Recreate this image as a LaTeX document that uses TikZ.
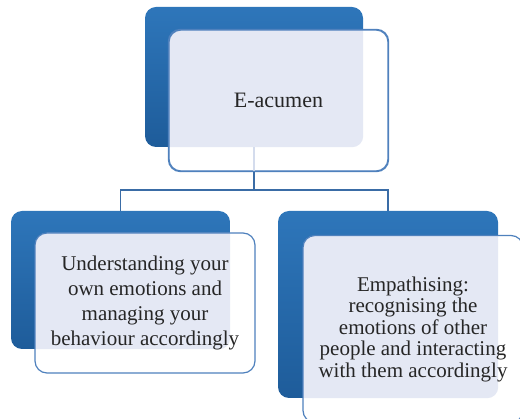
\documentclass[tikz,border=0pt]{standalone}
\usepackage{fontspec}
\setmainfont{Liberation Serif}
\begin{document}
\definecolor{blueTop}{RGB}{46,118,186}
\definecolor{blueBot}{RGB}{30,92,154}
\definecolor{edgeBlue}{RGB}{79,129,189}
\definecolor{lineBlue}{RGB}{58,108,166}
\definecolor{overlapFill}{RGB}{228,232,244}
\definecolor{faintLine}{RGB}{212,220,237}
\definecolor{txt}{RGB}{38,38,38}
\begin{tikzpicture}[x=1pt,y=-1pt,
  backbox/.style={draw=none, rounded corners=11pt, top color=blueTop, bottom color=blueBot,
    minimum width=#1, inner sep=0pt},
  % the part of a card lying over its plate is tinted
  frontbox/.style={draw=edgeBlue, line width=1.2pt, rounded corners=12pt, fill=white,
    text=txt, inner sep=0pt, align=center, font=\fontsize{21}{25}\selectfont,
    path picture={\fill[overlapFill, rounded corners=11pt]
      (#1.north west) rectangle (#1.south east);}},
  link/.style={draw=lineBlue, line width=1.4pt}
]
\useasboundingbox (0,0) rectangle (520,419);

% back plates
\node[backbox=218pt, minimum height=140pt] (topback) at (254,77) {};
\node[backbox=219pt, minimum height=138pt] (leftback) at (120.5,280) {};
\node[backbox=220pt, minimum height=187pt] (rightback) at (388,304.5) {};

% connectors
\coordinate (bus) at (254,190);
\draw[link] (topback.south) -- (bus);
\draw[link] (leftback.north) |- (bus) -| (rightback.north);

% front cards
\node[frontbox=topback, minimum width=219pt, minimum height=141pt,
  font=\fontsize{22}{25}\selectfont] (top) at (278.5,100.5) {E-acumen};
% the stem shows faintly through the top card
\draw[faintLine, line width=1.4pt] (topback.south) -- (topback.south |- top.south);
\draw[edgeBlue, line width=1.2pt, rounded corners=12pt] (top.north west) rectangle (top.south east);
\node[frontbox=leftback, minimum width=220pt, minimum height=140pt] (left) at (145,303)
  {Understanding your\\own emotions and\\managing your\\behaviour accordingly};
\node[frontbox=rightback, minimum width=220pt, minimum height=187pt,
  font=\fontsize{21}{21.5}\selectfont] (right) at (413,329)
  {Empathising:\\recognising the\\emotions of other\\people and interacting\\with them accordingly};
\end{tikzpicture}
\end{document}
